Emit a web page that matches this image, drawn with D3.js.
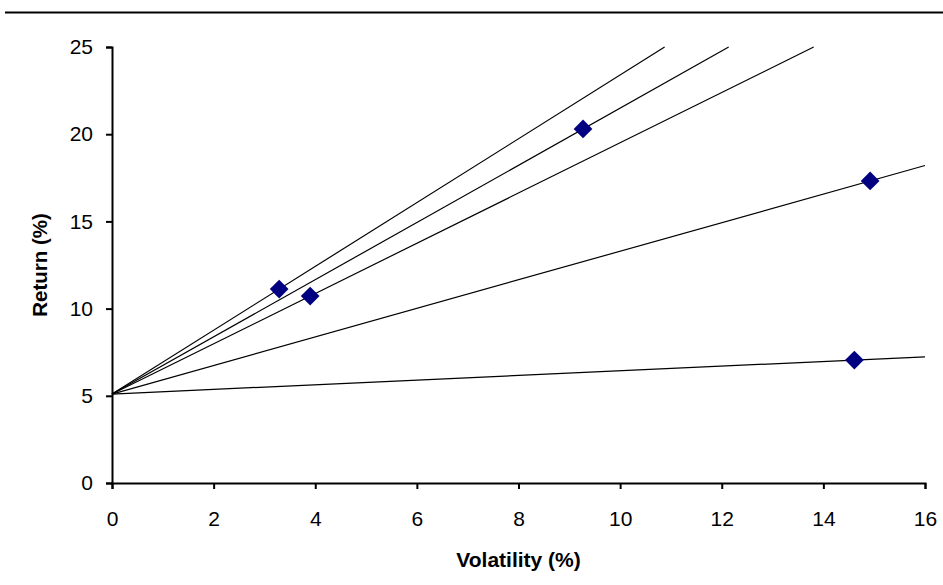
<!DOCTYPE html>
<html>
<head>
<meta charset="utf-8">
<script src="https://cdn.jsdelivr.net/npm/d3@7"></script>
<style>
  html, body { margin: 0; padding: 0; background: #fff; }
  svg { display: block; font-family: "Liberation Sans", Arial, sans-serif; }
</style>
</head>
<body>
<svg id="chart" width="943" height="585"></svg>
<script>
// ---- data ----
const volatility = [3.29, 3.90, 9.27, 14.92, 14.61];
const returns    = [11.12, 10.72, 20.3, 17.32, 7.05];
const riskFree   = 5.1;
const xTicks = [0, 2, 4, 6, 8, 10, 12, 14, 16];
const yTicks = [0, 5, 10, 15, 20, 25];
const xLabel = "Volatility (%)";
const yLabel = "Return (%)";

// ---- layout ----
const svg = d3.select("#chart");
const x = d3.scaleLinear().domain([0, 16]).range([112, 925]);
const y = d3.scaleLinear().domain([0, 25]).range([483, 47]);

// top rule
svg.append("line")
  .attr("x1", 5).attr("x2", 943).attr("y1", 12.5).attr("y2", 12.5)
  .attr("stroke", "#000").attr("stroke-width", 2.2);

// lines from the risk-free point through each asset, clipped to plot box
const pts = volatility.map((v, i) => ({ v, r: returns[i] }));
pts.forEach(p => {
  const s = (p.r - riskFree) / p.v;
  let xe = 16, ye = riskFree + s * 16;
  if (ye > 25) { ye = 25; xe = (25 - riskFree) / s; }
  svg.append("line")
    .attr("x1", x(0)).attr("y1", y(riskFree))
    .attr("x2", x(xe)).attr("y2", y(ye))
    .attr("stroke", "#000").attr("stroke-width", 1.2);
});

// axes
const xAxis = svg.append("g").attr("transform", `translate(0,${y(0)})`)
  .call(d3.axisBottom(x).tickValues(xTicks).tickSize(6).tickPadding(22).tickFormat(d3.format("d")));
const yAxis = svg.append("g").attr("transform", `translate(${x(0)},0)`)
  .call(d3.axisLeft(y).tickValues(yTicks).tickSize(6).tickPadding(13).tickFormat(d3.format("d")));
[xAxis, yAxis].forEach(g => {
  g.select(".domain").attr("stroke", "#000").attr("stroke-width", 2);
  g.selectAll(".tick line").attr("stroke", "#000").attr("stroke-width", 2);
  g.selectAll(".tick text").attr("fill", "#000")
    .style("font-size", "21px").style("font-family", "'Liberation Sans', Arial, sans-serif");
});

// markers
svg.append("g").selectAll("path").data(pts).join("path")
  .attr("d", d3.symbol().type(d3.symbolSquare).size(175))
  .attr("transform", d => `translate(${x(d.v)},${y(d.r)}) rotate(45)`)
  .attr("fill", "#000080");

// axis titles
svg.append("text")
  .attr("x", (x(0) + x(16)) / 2).attr("y", 567)
  .attr("text-anchor", "middle")
  .style("font-size", "21px").style("font-weight", "bold")
  .text(xLabel);
svg.append("text")
  .attr("transform", `translate(47,${(y(0) + y(25)) / 2}) rotate(-90)`)
  .attr("text-anchor", "middle")
  .style("font-size", "20.5px").style("font-weight", "bold")
  .text(yLabel);
</script>
</body>
</html>
